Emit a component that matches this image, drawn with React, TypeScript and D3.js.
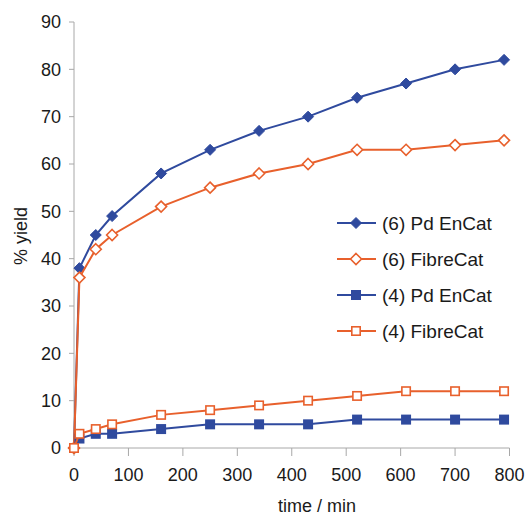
import React from "react";
import * as d3 from "d3";

const times = [0, 10, 40, 70, 160, 250, 340, 430, 520, 610, 700, 790];
const pdEnCat6 = [0, 38, 45, 49, 58, 63, 67, 70, 74, 77, 80, 82];
const fibreCat6 = [0, 36, 42, 45, 51, 55, 58, 60, 63, 63, 64, 65];
const pdEnCat4 = [0, 2, 3, 3, 4, 5, 5, 5, 6, 6, 6, 6];
const fibreCat4 = [0, 3, 4, 5, 7, 8, 9, 10, 11, 12, 12, 12];
const seriesNames = ["(6) Pd EnCat", "(6) FibreCat", "(4) Pd EnCat", "(4) FibreCat"];
const xTicks = [0, 100, 200, 300, 400, 500, 600, 700, 800];
const yTicks = [0, 10, 20, 30, 40, 50, 60, 70, 80, 90];

const BLUE = "#2f4a9e";
const ORANGE = "#e8602c";
const FONT = "'Liberation Sans', Arial, sans-serif";

type Marker = "diamondFilled" | "diamondOpen" | "squareFilled" | "squareOpen";

const series: { name: string; values: number[]; color: string; marker: Marker }[] = [
  { name: seriesNames[0], values: pdEnCat6, color: BLUE, marker: "diamondFilled" },
  { name: seriesNames[1], values: fibreCat6, color: ORANGE, marker: "diamondOpen" },
  { name: seriesNames[2], values: pdEnCat4, color: BLUE, marker: "squareFilled" },
  { name: seriesNames[3], values: fibreCat4, color: ORANGE, marker: "squareOpen" },
];

function MarkerShape({ type, x, y, color }: { type: Marker; x: number; y: number; color: string }) {
  if (type === "diamondFilled" || type === "diamondOpen") {
    const r = 5.5;
    const d = `M${x},${y - r}L${x + r},${y}L${x},${y + r}L${x - r},${y}Z`;
    return type === "diamondFilled" ? (
      <path d={d} fill={color} stroke={color} strokeWidth={1} />
    ) : (
      <path d={d} fill="#fff" stroke={color} strokeWidth={1.6} />
    );
  }
  const s = 10;
  return type === "squareFilled" ? (
    <rect x={x - s / 2} y={y - s / 2} width={s} height={s} fill={color} />
  ) : (
    <rect x={x - s / 2 + 0.8} y={y - s / 2 + 0.8} width={s - 1.6} height={s - 1.6} fill="#fff" stroke={color} strokeWidth={1.6} />
  );
}

export default function App() {
  const W = 527, H = 516;
  const x = d3.scaleLinear().domain([0, 800]).range([74, 509.5]);
  const y = d3.scaleLinear().domain([0, 90]).range([448, 22]);
  const line = d3.line<number>().x((_, i) => x(times[i])).y((v) => y(v));
  const axisColor = "#a8a8a8";
  const legendY = [223, 259, 295, 331];

  return (
    <svg width={W} height={H} style={{ position: "absolute", left: 0, top: 0 }} fontFamily={FONT}>
      <rect width={W} height={H} fill="#fff" />
      {/* y axis */}
      <line x1={74} x2={74} y1={y(90)} y2={y(0)} stroke={axisColor} strokeWidth={1} />
      {yTicks.map((t) => (
        <g key={t}>
          <line x1={69} x2={74} y1={y(t)} y2={y(t)} stroke={axisColor} strokeWidth={1} />
          <text x={61} y={y(t)} dy="0.35em" textAnchor="end" fontSize={18} fill="#1a1a1a">{t}</text>
        </g>
      ))}
      {/* x axis */}
      <line x1={x(0)} x2={x(800)} y1={448} y2={448} stroke={axisColor} strokeWidth={1} />
      {xTicks.map((t) => (
        <g key={t}>
          <line x1={x(t)} x2={x(t)} y1={448} y2={456} stroke={axisColor} strokeWidth={1} />
          <text x={x(t)} y={475} dy="0.35em" textAnchor="middle" fontSize={18} fill="#1a1a1a">{t}</text>
        </g>
      ))}
      <text x={317} y={506} dy="0.35em" textAnchor="middle" fontSize={18} fill="#1a1a1a">time / min</text>
      <text transform={`translate(21,236) rotate(-90)`} dy="0.35em" textAnchor="middle" fontSize={18} fill="#1a1a1a">% yield</text>
      {/* series */}
      {series.map((s) => (
        <g key={s.name}>
          <path d={line(s.values) || ""} fill="none" stroke={s.color} strokeWidth={2} />
          {s.values.map((v, i) => (
            <MarkerShape key={i} type={s.marker} x={x(times[i])} y={y(v)} color={s.color} />
          ))}
        </g>
      ))}
      {/* legend */}
      {series.map((s, i) => (
        <g key={"lg" + i}>
          <line x1={337} x2={376} y1={legendY[i]} y2={legendY[i]} stroke={s.color} strokeWidth={2} />
          <MarkerShape type={s.marker} x={356} y={legendY[i]} color={s.color} />
          <text x={382} y={legendY[i]} dy="0.35em" fontSize={19} fill="#1a1a1a">{s.name}</text>
        </g>
      ))}
    </svg>
  );
}
